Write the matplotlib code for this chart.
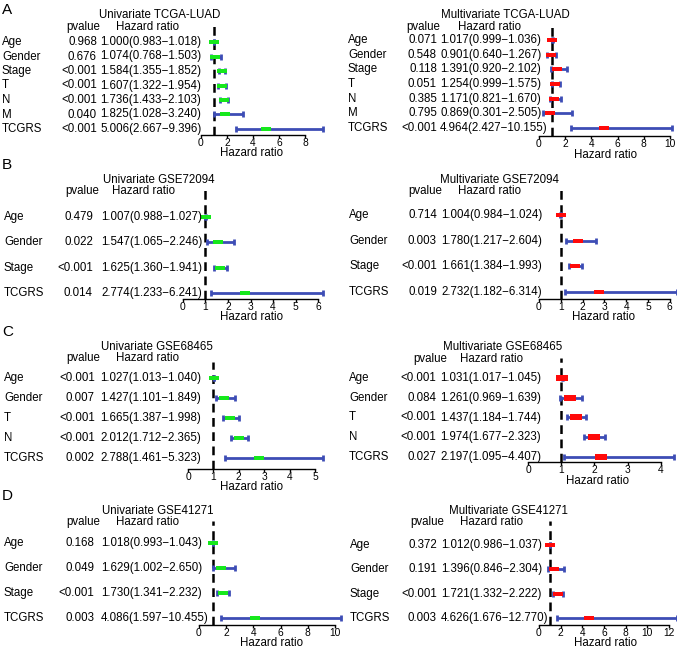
import matplotlib
matplotlib.use('Agg')
import matplotlib.pyplot as plt

plt.rcParams['font.family'] = ['Liberation Sans', 'DejaVu Sans']

# ---- data ----
# A: TCGA-LUAD
a_vars = ['Age', 'Gender', 'Stage', 'T', 'N', 'M', 'TCGRS']
a_uni_p = ['0.968', '0.676', '<0.001', '<0.001', '<0.001', '0.040', '<0.001']
a_uni_hr = [1.000, 1.074, 1.584, 1.607, 1.736, 1.825, 5.006]
a_uni_lo = [0.983, 0.768, 1.355, 1.322, 1.433, 1.028, 2.667]
a_uni_hi = [1.018, 1.503, 1.852, 1.954, 2.103, 3.240, 9.396]
a_multi_p = ['0.071', '0.548', '0.118', '0.051', '0.385', '0.795', '<0.001']
a_multi_hr = [1.017, 0.901, 1.391, 1.254, 1.171, 0.869, 4.964]
a_multi_lo = [0.999, 0.640, 0.920, 0.999, 0.821, 0.301, 2.427]
a_multi_hi = [1.036, 1.267, 2.102, 1.575, 1.670, 2.505, 10.155]

# B: GSE72094
b_vars = ['Age', 'Gender', 'Stage', 'TCGRS']
b_uni_p = ['0.479', '0.022', '<0.001', '0.014']
b_uni_hr = [1.007, 1.547, 1.625, 2.774]
b_uni_lo = [0.988, 1.065, 1.360, 1.233]
b_uni_hi = [1.027, 2.246, 1.941, 6.241]
b_multi_p = ['0.714', '0.003', '<0.001', '0.019']
b_multi_hr = [1.004, 1.780, 1.661, 2.732]
b_multi_lo = [0.984, 1.217, 1.384, 1.182]
b_multi_hi = [1.024, 2.604, 1.993, 6.314]

# C: GSE68465
c_vars = ['Age', 'Gender', 'T', 'N', 'TCGRS']
c_uni_p = ['<0.001', '0.007', '<0.001', '<0.001', '0.002']
c_uni_hr = [1.027, 1.427, 1.665, 2.012, 2.788]
c_uni_lo = [1.013, 1.101, 1.387, 1.712, 1.461]
c_uni_hi = [1.040, 1.849, 1.998, 2.365, 5.323]
c_multi_p = ['<0.001', '0.084', '<0.001', '<0.001', '0.027']
c_multi_hr = [1.031, 1.261, 1.437, 1.974, 2.197]
c_multi_lo = [1.017, 0.969, 1.184, 1.677, 1.095]
c_multi_hi = [1.045, 1.639, 1.744, 2.323, 4.407]

# D: GSE41271
d_vars = ['Age', 'Gender', 'Stage', 'TCGRS']
d_uni_p = ['0.168', '0.049', '<0.001', '0.003']
d_uni_hr = [1.018, 1.629, 1.730, 4.086]
d_uni_lo = [0.993, 1.002, 1.341, 1.597]
d_uni_hi = [1.043, 2.650, 2.232, 10.455]
d_multi_p = ['0.372', '0.191', '<0.001', '0.003']
d_multi_hr = [1.012, 1.396, 1.721, 4.626]
d_multi_lo = [0.986, 0.846, 1.332, 1.676]
d_multi_hi = [1.037, 2.304, 2.222, 12.770]

W, H = 677, 648
FS = 8.3
TFS = 7.4
BLUE = '#3d4db5'
GREEN = '#16e81c'
RED = '#ff0a0a'
RECT = [(-1, -0.5), (1, -0.5), (1, 0.5), (-1, 0.5), (-1, -0.5)]

fig = plt.figure(figsize=(W / 100, H / 100), dpi=100)


def ftext(x, y, s, **kw):
    # place text using pixel coordinates (origin top-left)
    kw.setdefault('fontsize', FS)
    kw.setdefault('va', 'center')
    fig.text(x / W, 1 - y / H, s, **kw)


def forest(title, names, pvals, hr, lo, hi, ticks, color, L):
    n = len(names)
    step = (L['yb'] - L['yt']) / (n - 1)
    ax = fig.add_axes([L['x0'] / W, 1 - L['ay'] / H,
                       L['xmax'] * L['ppu'] / W, (L['ay'] - L['dt']) / H])
    ax.set_xlim(0, L['xmax'])
    ax.set_ylim((n - 1) + (L['ay'] - L['yb']) / step, -(L['yt'] - L['dt']) / step)
    ax.patch.set_alpha(0)
    for sp in ['top', 'right', 'left']:
        ax.spines[sp].set_visible(False)
    ax.spines['bottom'].set_bounds(ticks[0], ticks[-1])
    ax.spines['bottom'].set_linewidth(1.0)
    ax.set_xticks(ticks)
    ax.set_yticks([])
    ax.tick_params(axis='x', length=2.5, width=1.0, pad=0, labelsize=TFS)

    rows = list(range(n))
    ax.axvline(1, color='black', lw=1.8, dashes=(3.5, 2.2), zorder=1)
    ax.hlines(rows, lo, hi, color=BLUE, lw=2.0, zorder=2, clip_on=False)
    ax.plot(lo, rows, ls='none', marker='|', ms=5, mew=2, color=BLUE, zorder=2, clip_on=False)
    ax.plot(hi, rows, ls='none', marker='|', ms=5, mew=2, color=BLUE, zorder=2, clip_on=False)
    ax.plot(hr, rows, ls='none', marker=RECT, ms=L.get('ms', 6.5), color=color,
            mec=color, mew=0, zorder=3, clip_on=False)

    # text table
    ftext(L['title'][0], L['title'][1], title, ha='center')
    ftext(L['hp'], L['hy'], 'pvalue', ha='center')
    ftext(L['hh'], L['hy'], 'Hazard ratio', ha='center')
    for i in range(n):
        y = L['yt'] + i * step
        ftext(L['lab'], y, names[i], ha='left')
        ftext(L['pr'], y, pvals[i], ha='right')
        ftext(L['hl'], y, f'{hr[i]:.3f}({lo[i]:.3f}\u2212{hi[i]:.3f})', ha='left')
    ftext(L['xl'][0], max(L['xl'][1], L['ay'] + 18.5), 'Hazard ratio', ha='center')


# layouts (pixel positions)
lay_a1 = dict(lab=2, pr=97, hl=100, x0=201, ppu=13.0, xmax=9.6, title=(160, 15), hy=27,
              hp=83, hh=147, yt=42, yb=129, ay=135, dt=26, xl=(252, 150))
lay_a2 = dict(lab=348, pr=437, hl=440, x0=539, ppu=13.1, xmax=10.3, title=(505, 15), hy=27,
              hp=423, hh=489, yt=40, yb=128, ay=136, dt=25, xl=(605, 149))
lay_b1 = dict(lab=4, pr=93, hl=101, x0=183, ppu=22.5, xmax=6.35, title=(159, 180), hy=191,
              hp=82, hh=144, yt=217, yb=293, ay=299, dt=190, xl=(252, 314))
lay_b2 = dict(lab=349, pr=437, hl=441, x0=539, ppu=21.8, xmax=6.4, title=(500, 180), hy=191,
              hp=425, hh=489, yt=215, yb=292, ay=299, dt=190, xl=(603, 314))
lay_c1 = dict(lab=4, pr=95, hl=100, x0=188, ppu=25.4, xmax=5.45, title=(157, 347), hy=358,
              hp=83, hh=148, yt=378, yb=458, ay=469, dt=362, xl=(251, 480))
lay_c2 = dict(lab=349, pr=436, hl=440, x0=528, ppu=33.2, xmax=4.5, title=(503, 347), hy=359,
              hp=430, hh=492, yt=378, yb=457, ay=462, dt=358, xl=(597, 480), ms=8)
lay_d1 = dict(lab=4, pr=94, hl=101, x0=199, ppu=13.6, xmax=10.6, title=(158, 511), hy=522,
              hp=83, hh=147, yt=543, yb=618, ay=625, dt=521, xl=(271, 642))
lay_d2 = dict(lab=350, pr=437, hl=441, x0=539, ppu=10.83, xmax=12.9, title=(508, 511), hy=522,
              hp=427, hh=491, yt=545, yb=618, ay=625, dt=521, xl=(605, 642))

forest('Univariate TCGA-LUAD', a_vars, a_uni_p, a_uni_hr, a_uni_lo, a_uni_hi,
       [0, 2, 4, 6, 8], GREEN, lay_a1)
forest('Multivariate TCGA-LUAD', a_vars, a_multi_p, a_multi_hr, a_multi_lo, a_multi_hi,
       [0, 2, 4, 6, 8, 10], RED, lay_a2)
forest('Univariate GSE72094', b_vars, b_uni_p, b_uni_hr, b_uni_lo, b_uni_hi,
       [0, 1, 2, 3, 4, 5, 6], GREEN, lay_b1)
forest('Multivariate GSE72094', b_vars, b_multi_p, b_multi_hr, b_multi_lo, b_multi_hi,
       [0, 1, 2, 3, 4, 5, 6], RED, lay_b2)
forest('Univariate GSE68465', c_vars, c_uni_p, c_uni_hr, c_uni_lo, c_uni_hi,
       [0, 1, 2, 3, 4, 5], GREEN, lay_c1)
forest('Multivariate GSE68465', c_vars, c_multi_p, c_multi_hr, c_multi_lo, c_multi_hi,
       [0, 1, 2, 3, 4], RED, lay_c2)
forest('Univariate GSE41271', d_vars, d_uni_p, d_uni_hr, d_uni_lo, d_uni_hi,
       [0, 2, 4, 6, 8, 10], GREEN, lay_d1)
forest('Multivariate GSE41271', d_vars, d_multi_p, d_multi_hr, d_multi_lo, d_multi_hi,
       [0, 2, 4, 6, 8, 10, 12], RED, lay_d2)

# panel letters
for letter, y in zip(['A', 'B', 'C', 'D'], [10, 165, 332, 496]):
    ftext(2, y, letter, ha='left', fontsize=11)

fig.savefig('out.png', dpi=100)
